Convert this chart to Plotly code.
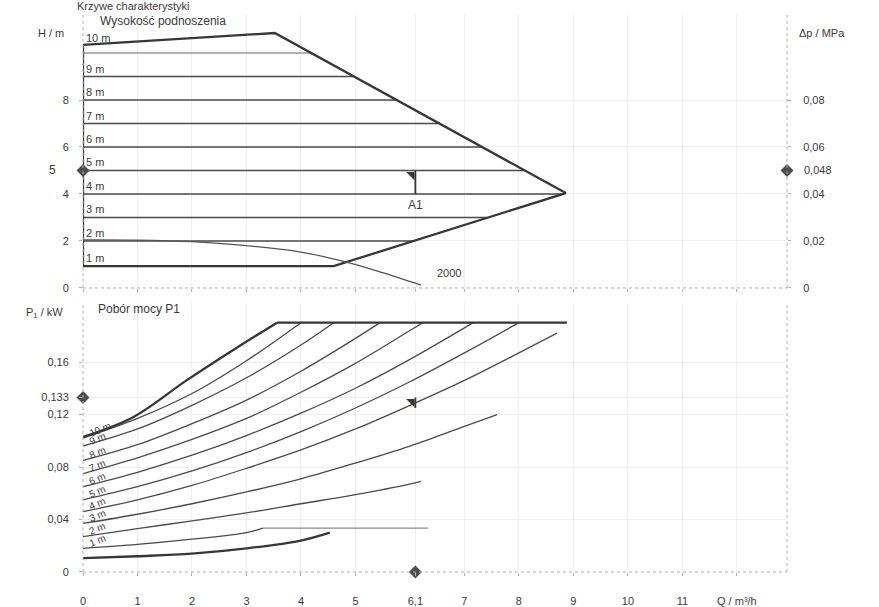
import plotly.graph_objects as go

# ---------------- data ----------------
# Head chart (Wysokość podnoszenia): constant-head lines and envelope
head_levels = [2, 3, 4, 5, 6, 7, 8, 9, 10]
head_q_end = [6.06, 7.42, 8.80, 8.09, 7.31, 6.53, 5.75, 4.97, 4.18]
head_bottom = 0.93  # lowest line (1 m)

envelope_q = [0, 3.52, 8.86, 4.60, 0, 0]
envelope_h = [10.35, 10.85, 4.04, 0.93, 0.93, 10.35]

# system curve "2000"
sys_q = [0, 1, 2, 3, 4, 4.9, 5.5, 6.2]
sys_h = [2.05, 2.04, 1.97, 1.80, 1.53, 1.06, 0.65, 0.12]

# Power chart (Pobór mocy P1)
q_max = [0, 0.92, 1.9, 2.75, 3.56]
p_max = [0.103, 0.118, 0.146, 0.169, 0.190]
q_10m = [0, 1, 2, 3, 4.0]
p_10m = [0.102, 0.117, 0.136, 0.161, 0.190]
q_9m = [0, 1, 2, 3, 4, 4.6]
p_9m = [0.096, 0.109, 0.127, 0.148, 0.173, 0.190]
q_8m = [0, 1, 2, 3, 4, 5, 5.45]
p_8m = [0.085, 0.097, 0.113, 0.131, 0.153, 0.178, 0.190]
q_7m = [0, 1, 2, 3, 4, 5, 6, 6.24]
p_7m = [0.075, 0.087, 0.101, 0.117, 0.137, 0.159, 0.184, 0.190]
q_6m = [0, 1, 2, 3, 4, 5, 6, 7, 7.16]
p_6m = [0.065, 0.076, 0.089, 0.104, 0.121, 0.140, 0.162, 0.186, 0.190]
q_5m = [0, 1, 2, 3, 4, 5, 6, 7, 8]
p_5m = [0.055, 0.065, 0.077, 0.091, 0.107, 0.125, 0.145, 0.167, 0.190]
q_4m = [0, 1, 2, 3, 4, 5, 6, 7, 8, 8.7]
p_4m = [0.046, 0.055, 0.066, 0.079, 0.093, 0.109, 0.127, 0.146, 0.167, 0.182]
q_3m = [0, 1, 2, 3, 4, 5, 6, 7, 7.6]
p_3m = [0.037, 0.044, 0.052, 0.061, 0.071, 0.083, 0.096, 0.111, 0.120]
q_2m = [0, 1, 2, 3, 4, 5, 6, 6.2]
p_2m = [0.027, 0.033, 0.039, 0.045, 0.052, 0.059, 0.067, 0.069]
q_1m = [0, 1, 2, 3, 3.3]
p_1m = [0.018, 0.021, 0.025, 0.030, 0.0335]
q_flat = [3.3, 6.33]
p_flat = [0.0335, 0.0335]
q_min = [0, 1, 2, 3, 4, 4.53]
p_min = [0.0105, 0.012, 0.014, 0.018, 0.024, 0.030]
q_plimit = [3.56, 8.88]
p_plimit = [0.190, 0.190]

# operating point A1
op_q = 6.1
op_h = 5
op_p = 0.133
op_dp_label = "0,048"

x_ticks = [0, 1, 2, 3, 4, 5, 6.1, 7, 8, 9, 10, 11, 12]
x_ticktext = ["0", "1", "2", "3", "4", "5", "6,1", "7", "8", "9", "10", "11", "Q / m³/h"]
h_ticks = [0, 2, 4, 6, 8]
p_ticks = [0, 0.04, 0.08, 0.12, 0.133, 0.16]
p_ticktext = ["0", "0,04", "0,08", "0,12", "0,133", "0,16"]
dp_ticks = [0, 0.02, 0.04, 0.06, 0.08]
dp_ticktext = ["0", "0,02", "0,04", "0,06", "0,08"]

# ---------------- styling ----------------
FONT = "Liberation Sans, Arial, sans-serif"
TXT = "#3a3a3a"
LINE = "#4a4a4a"
THICK = "#363636"
AXIS = "#b0b0b0"
GRID = "#efefef"

fig = go.Figure()

def upper(x, y, **kw):
    fig.add_trace(go.Scatter(x=x, y=y, xaxis="x2", yaxis="y", mode="lines",
                             hoverinfo="skip", showlegend=False, **kw))

def lower(x, y, **kw):
    fig.add_trace(go.Scatter(x=x, y=y, xaxis="x", yaxis="y2", mode="lines",
                             hoverinfo="skip", showlegend=False, **kw))

# head lines
for h, qe in zip(head_levels, head_q_end):
    col = "#9a9a9a" if h == 10 else LINE
    upper([0, qe], [h, h], line=dict(color=col, width=1.3))
upper(envelope_q, envelope_h, line=dict(color=THICK, width=2.3))
upper(sys_q, sys_h, line=dict(color="#555555", width=1.3, shape="spline"))
upper([op_q, op_q], [op_h, 4.0], line=dict(color=THICK, width=1.8))

# power curves
power_curves = [
    ("10 m", q_10m, p_10m), ("9 m", q_9m, p_9m), ("8 m", q_8m, p_8m),
    ("7 m", q_7m, p_7m), ("6 m", q_6m, p_6m), ("5 m", q_5m, p_5m),
    ("4 m", q_4m, p_4m), ("3 m", q_3m, p_3m), ("2 m", q_2m, p_2m),
    ("1 m", q_1m, p_1m),
]
for name, q, p in power_curves:
    lower(q, p, line=dict(color=LINE, width=1.3, shape="spline"))
lower(q_flat, p_flat, line=dict(color="#8a8a8a", width=1.2))
lower(q_max, p_max, line=dict(color=THICK, width=2.3, shape="spline"))
lower(q_min, p_min, line=dict(color=THICK, width=2.3, shape="spline"))
lower(q_plimit, p_plimit, line=dict(color=THICK, width=2.3))
lower([op_q, op_q], [op_p, op_p - 0.008], line=dict(color=THICK, width=1.8))

# operating point diamonds on the axes
dia = dict(symbol="diamond", size=10, color="#4d4d4d")
fig.add_trace(go.Scatter(x=[0, 12.92], y=[op_h, op_h], xaxis="x2", yaxis="y",
                         mode="markers", marker=dia, cliponaxis=False,
                         hoverinfo="skip", showlegend=False))
fig.add_trace(go.Scatter(x=[0, op_q], y=[op_p, 0], xaxis="x", yaxis="y2",
                         mode="markers", marker=dia, cliponaxis=False,
                         hoverinfo="skip", showlegend=False))
# pressure scale (right) carries the same operating point
fig.add_trace(go.Scatter(x=[op_q], y=[0.048], xaxis="x2", yaxis="y3",
                         mode="markers", marker=dict(opacity=0),
                         hoverinfo="skip", showlegend=False))

ann = []
tf = dict(family=FONT, size=11, color=TXT)

# head labels
ann.append(dict(x=0, y=head_bottom, xref="x2", yref="y", text="1 m", showarrow=False,
                xanchor="left", yanchor="bottom", xshift=1, font=tf))
for h in head_levels:
    ann.append(dict(x=0, y=h + (0.3 if h == 10 else 0), xref="x2", yref="y",
                    text=f"{h} m", showarrow=False,
                    xanchor="left", yanchor="bottom", xshift=1, font=tf))

# power curve labels, slanted along the curves
for name, q, p in power_curves:
    ann.append(dict(x=q[0], y=p[0], xref="x", yref="y2", text=name, showarrow=False,
                    xanchor="left", yanchor="bottom", xshift=2, yshift=-3,
                    textangle=-22, font=dict(family=FONT, size=10, color=TXT)))

# operating point marks
for yref, yv in (("y", op_h), ("y2", op_p)):
    ann.append(dict(x=op_q, y=yv, xref="x", yref=yref, text="◥", showarrow=False,
                    xanchor="right", yanchor="top", xshift=2, yshift=3,
                    font=dict(family="DejaVu Sans", size=11, color=THICK)))
ann.append(dict(x=op_q, y=3.55, xref="x", yref="y", text="A1", showarrow=False,
                font=dict(family=FONT, size=12, color=TXT)))
ann.append(dict(x=sys_q[-1], y=sys_h[-1], xref="x", yref="y", text="2000",
                showarrow=False, xanchor="left", yanchor="bottom", xshift=14, yshift=4,
                font=tf))
ann.append(dict(x=0, y=op_h, xref="x", yref="y", text=str(op_h), showarrow=False,
                xanchor="right", xshift=-25, font=dict(family=FONT, size=12, color=TXT)))
ann.append(dict(x=1, y=op_h, xref="x domain", yref="y", text=op_dp_label, showarrow=False,
                xanchor="left", xshift=15, font=tf))

# titles and axis names
ann += [
    dict(x=0.021, y=0.9875, xref="paper", yref="paper", text="Wysokość podnoszenia",
         showarrow=False, xanchor="left", yanchor="middle",
         font=dict(family=FONT, size=12, color=TXT)),
    dict(x=0.018, y=0.471, xref="paper", yref="paper", text="Pobór mocy P1",
         showarrow=False, xanchor="left", yanchor="middle",
         font=dict(family=FONT, size=12, color=TXT)),
    dict(x=-0.024, y=10.85, xref="paper", yref="y", text="H / m", showarrow=False,
         xanchor="right", yanchor="middle", font=tf),
    dict(x=1.014, y=10.85, xref="paper", yref="y", text="Δp / MPa", showarrow=False,
         xanchor="left", yanchor="middle", font=dict(family=FONT, size=11, color=TXT)),
    dict(x=-0.026, y=0.197, xref="paper", yref="y2", text="P<sub>1</sub> / kW",
         showarrow=False, xanchor="right", yanchor="middle", font=tf),
    dict(x=-0.012, y=1.0251, xref="paper", yref="paper", text="Krzywe charakterystyki",
         showarrow=False, xanchor="left", yanchor="top", yshift=2,
         font=dict(family=FONT, size=11, color=TXT)),
]

# dotted axis lines
shapes = []
dot = dict(color=AXIS, width=1, dash="dot")
for yd in ("y domain", "y2 domain"):
    shapes.append(dict(type="line", xref="x domain", yref=yd, x0=0, x1=0, y0=0, y1=1, line=dot))
    shapes.append(dict(type="line", xref="x domain", yref=yd, x0=0, x1=1, y0=0, y1=0, line=dot))
    shapes.append(dict(type="line", xref="x domain", yref=yd, x0=1, x1=1, y0=0, y1=1, line=dot))

axis_common = dict(showline=False, zeroline=False, automargin=False,
                   ticks="outside", ticklen=3, tickcolor=AXIS,
                   tickfont=dict(family=FONT, size=11, color=TXT))

fig.update_layout(
    width=879, height=607,
    margin=dict(l=83, r=92, t=14, b=35),
    paper_bgcolor="white", plot_bgcolor="white",
    showlegend=False,
    annotations=ann, shapes=shapes,
    xaxis=dict(domain=[0, 1], anchor="y2", range=[0, 12.92], tickvals=x_ticks,
               ticktext=x_ticktext, ticklabelstandoff=16, gridcolor=GRID, **axis_common),
    xaxis2=dict(domain=[0, 1], anchor="y", range=[0, 12.92], matches="x",
                tickvals=x_ticks, showticklabels=False, gridcolor=GRID, **axis_common),
    yaxis=dict(domain=[0.509, 1], range=[0, 11.66], tickvals=h_ticks,
               ticklabelstandoff=8, gridcolor=GRID, **axis_common),
    yaxis3=dict(overlaying="y", side="right", anchor="x2", range=[0, 0.1166],
                tickvals=dp_ticks, ticktext=dp_ticktext, showgrid=False,
                ticklabelstandoff=10, **axis_common),
    yaxis2=dict(domain=[0, 0.4821], range=[0, 0.205], tickvals=p_ticks,
                ticktext=p_ticktext, ticklabelstandoff=8, gridcolor=GRID, **axis_common),
)

fig.write_html("out.html")
